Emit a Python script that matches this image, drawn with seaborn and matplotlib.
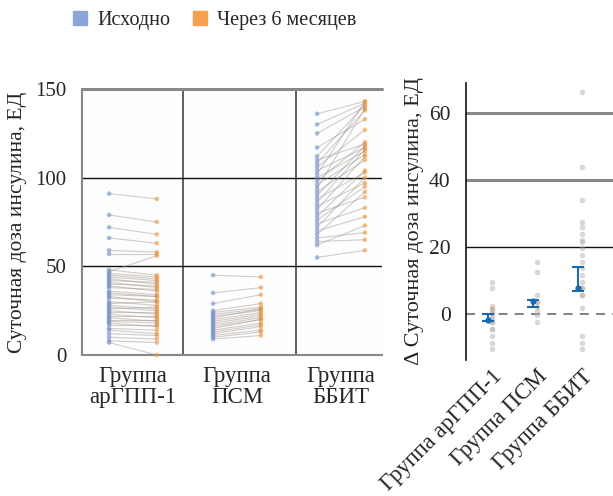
import numpy as np
import pandas as pd
import matplotlib
matplotlib.use("Agg")
import matplotlib.pyplot as plt
from matplotlib.lines import Line2D
import seaborn as sns

# ---------------- data ----------------
groups = ["Группа\nарГПП-1", "Группа\nПСМ", "Группа\nББИТ"]
groups_rot = ["Группа арГПП-1", "Группа ПСМ", "Группа ББИТ"]
legend_labels = ["Исходно", "Через 6 месяцев"]

g1_base = [91, 79, 72, 66, 59, 57, 48, 47, 46, 45, 44, 43, 42, 41, 40, 39, 38, 36, 35, 34, 33,
           32, 30, 29, 28, 27, 26, 25, 24, 23, 22, 21, 20, 19, 18, 17, 15, 14, 12, 10, 8, 7]
g1_follow = [88, 75, 68, 63, 58, 57, 45, 56, 44, 43, 42, 40, 41, 38, 39, 36, 37, 34, 33, 33, 30,
             31, 28, 30, 26, 25, 27, 23, 24, 21, 22, 19, 20, 18, 16, 17, 14, 12, 11, 9, 7, 0]

g2_base = [45, 35, 29, 25, 24, 23, 22, 21, 20, 19, 18, 17, 16, 15, 14, 13, 12, 11, 10, 9]
g2_follow = [44, 38, 34, 29, 27, 26, 25, 26, 24, 23, 22, 21, 20, 20, 18, 17, 16, 14, 13, 11]

g3_base = [136, 130, 125, 117, 112, 110, 108, 106, 104, 102, 100, 98, 96, 94, 92, 90, 88, 86,
           84, 82, 80, 78, 76, 74, 72, 70, 68, 66, 64, 62, 55]
g3_follow = [143, 142, 140, 133, 141, 119, 138, 127, 117, 143, 115, 120, 113, 139, 110, 118, 103,
             116, 97, 112, 89, 104, 95, 83, 100, 78, 92, 69, 65, 73, 59]

d1 = [9.6, 7.8, 2.4, 1.5, 1.5, 0.3, 0.3, -0.6, -1.5, -2.4, -2.4, -4.5, -4.5, -6.6, -8.7, -10.4]
d2 = [15.5, 12.5, 5.7, 3.6, 3.6, 2.1, 1.0, -0.3, -2.4]
d3 = [66.3, 43.9, 34, 27.5, 26, 23.9, 22, 21.5, 19.7, 17.6, 15.5, 13.7, 11.6, 9.6, 7.8, 7.8,
      5.7, 5.7, 1.8, -6.6, -8.7, -10.4]

est_center = [-1.7, 3.9, 7.8]
est_low = [-2.0, 2.1, 6.9]
est_high = [0.0, 4.2, 14.0]

# ---------------- tables ----------------
rows = []
pid = 0
for gi, (b, f) in enumerate([(g1_base, g1_follow), (g2_base, g2_follow), (g3_base, g3_follow)]):
    for vb, vf in zip(b, f):
        rows.append(dict(group=gi, pid=pid, time=legend_labels[0], xpos=gi - 0.23, value=vb))
        rows.append(dict(group=gi, pid=pid, time=legend_labels[1], xpos=gi + 0.23, value=vf))
        pid += 1
df = pd.DataFrame(rows)

drows = []
for gi, d in enumerate([d1, d2, d3]):
    for v in d:
        drows.append(dict(group=groups_rot[gi], delta=v))
ddf = pd.DataFrame(drows)

# ---------------- style ----------------
sns.set_theme(style="white")
plt.rcParams["font.family"] = ["Liberation Serif", "DejaVu Serif"]
plt.rcParams["font.size"] = 15

BLUE = "#6f8fd0"
ORANGE = "#f29a3c"

fig = plt.figure(figsize=(6.13, 4.96), dpi=100)
axL = fig.add_axes([82 / 613, 1 - 355 / 496, 300 / 613, 266 / 496])
axR = fig.add_axes([466 / 613, 1 - 360 / 496, 147 / 613, 277 / 496])

# ---------------- left panel ----------------
sns.scatterplot(data=df, x="xpos", y="value", hue="time", palette=[BLUE, ORANGE],
                s=11, alpha=0.6, edgecolor="none", legend=False, ax=axL, zorder=3,
                clip_on=False)
sns.lineplot(data=df, x="xpos", y="value", units="pid", estimator=None, color="#9a918a",
             alpha=0.45, lw=0.8, ax=axL, zorder=4, legend=False)

axL.set_xlim(-0.49, 2.394)
axL.set_ylim(0, 150)
axL.set_yticks([0, 50, 100, 150])
axL.set_xticks([0, 1, 2])
axL.set_xticklabels(groups, fontsize=16.5, linespacing=1.0)
axL.set_xticks([0.485, 1.567], minor=True)
axL.tick_params(axis="x", which="major", length=0, pad=8)
axL.tick_params(axis="x", which="minor", length=7, width=1.2, color="#444444", direction="out")
axL.tick_params(axis="y", length=9, width=1, color="#777777", direction="out", labelsize=15, pad=2)
for v in [0.485, 1.567]:
    axL.axvline(v, color="#444444", lw=1.2, zorder=1)
for v in [50, 100]:
    axL.axhline(v, color="#111111", lw=1.0, zorder=1)
axL.axhline(150, color="#888888", lw=2.2, zorder=1, clip_on=False)
for s in ["right", "top"]:
    axL.spines[s].set_visible(False)
axL.spines["left"].set_color("#888888")
axL.spines["left"].set_linewidth(1.5)
axL.spines["bottom"].set_color("#888888")
axL.spines["bottom"].set_linewidth(1.5)
axL.set_xlabel("")
axL.set_ylabel("Суточная доза инсулина, ЕД", fontsize=15.5, labelpad=6)
axL.set_facecolor("#fdfdfd")

# ---------------- right panel ----------------
sns.stripplot(data=ddf, x="group", y="delta", jitter=False, color="#b3a79d", alpha=0.45,
              size=4, linewidth=0, ax=axR, zorder=3)
xe = np.arange(3) - 0.08
axR.errorbar(xe, est_center,
             yerr=[np.array(est_center) - np.array(est_low), np.array(est_high) - np.array(est_center)],
             fmt="o", ms=3.5, color="#1a6ab0", ecolor="#1a6ab0", elinewidth=1.5, capsize=4,
             capthick=1.5, zorder=5)
axR.set_xlim(-0.578, 2.69)
axR.set_ylim(-13.7, 69)
axR.set_yticks([0, 20, 40, 60])
for v in [40, 60]:
    axR.axhline(v, color="#888888", lw=2.2, zorder=1)
axR.axhline(20, color="#111111", lw=1.0, zorder=1)
axR.axhline(0, color="#777777", lw=1.3, ls=(0, (5, 4)), zorder=1)
for s in ["right", "top", "bottom"]:
    axR.spines[s].set_visible(False)
axR.spines["left"].set_color("#111111")
axR.spines["left"].set_linewidth(1.2)
axR.tick_params(axis="y", length=9, width=1, color="#777777", direction="out", labelsize=15.5, pad=2)
axR.tick_params(axis="x", length=0, pad=4)
axR.set_xticks([0, 1, 2])
axR.set_xticklabels(groups_rot, rotation=45, ha="right", va="top", rotation_mode="anchor",
                    fontsize=16.5)
axR.set_xlabel("")
axR.set_ylabel("Δ Суточная доза инсулина, ЕД", fontsize=16, labelpad=4)

# ---------------- legend ----------------
handles = [Line2D([], [], marker="s", ls="none", color="#8aa6d6", markersize=10),
           Line2D([], [], marker="s", ls="none", color="#f5a04f", markersize=10)]
fig.legend(handles, legend_labels, loc="center", bbox_to_anchor=(0.348, 0.958), ncol=2,
           frameon=False, fontsize=14.5, handletextpad=0.35, columnspacing=1.0, handlelength=1.0)

fig.savefig("out.png", dpi=100)
